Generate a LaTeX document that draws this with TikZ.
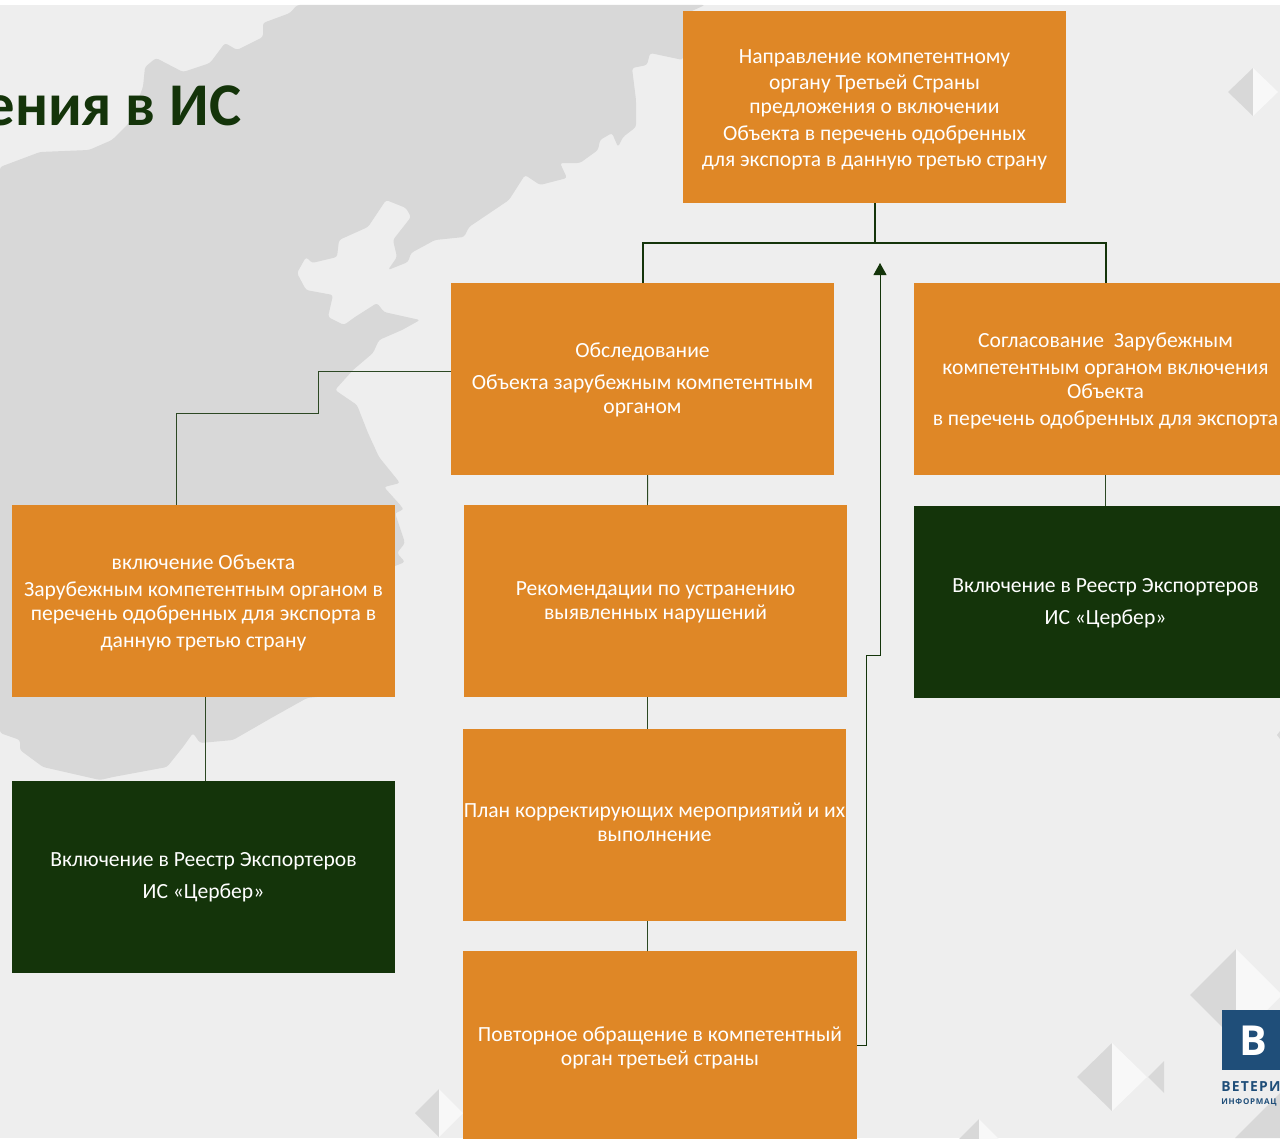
\documentclass[tikz,border=0pt]{standalone}
\usepackage{fontspec}
\setmainfont{Carlito}
\newfontfamily\logofont[LetterSpace=9]{Open Sans}
\usetikzlibrary{arrows.meta}
\definecolor{bgc}{HTML}{EEEEEE}
\definecolor{mapc}{HTML}{D8D8D8}
\definecolor{litec}{HTML}{F8F8F8}
\definecolor{orangec}{HTML}{DF8726}
\definecolor{greenc}{HTML}{14340A}
\definecolor{logoc}{HTML}{1F4E79}
\tikzset{
  box/.style={minimum width=287.25pt,minimum height=144pt,inner sep=0pt,outer sep=0pt,text=white,align=center,font=\fontsize{16.2}{18}\selectfont},
  obox/.style={box,fill=orangec},
  gbox/.style={box,fill=greenc},
  thick line/.style={draw=greenc,line width=1.5pt},
  thin line/.style={draw=greenc!90!white,line width=0.7pt},
  darkhalf/.style={fill=mapc},
  litehalf/.style={fill=litec},
}
\newcommand{\gem}[4]{% cx cy half-width half-height
  \fill[darkhalf] (#1-#3,#2) -- (#1,#2-#4) -- (#1,#2+#4) -- cycle;
  \fill[litehalf] (#1+#3,#2) -- (#1,#2-#4) -- (#1,#2+#4) -- cycle;
}
\newcommand{\dn}[1]{\rule{0pt}{#1}}
\begin{document}
\begin{tikzpicture}[x=0.75pt,y=-0.75pt]
\useasboundingbox (0,0) rectangle (1280,1138);
\clip (0,0) rectangle (1280,1138);
\fill[white] (0,0) rectangle (1280,1138);
\fill[bgc] (0,5) rectangle (1280,1138);
% map
\fill[mapc,rounded corners=2pt] (0,167) -- (40,152) -- (89,150) -- (112,140) -- (129,123) -- (143,87) -- (145,67) -- (156,58) -- (183,72) -- (210,63) -- (225,43) -- (237,50) -- (263,37) -- (263,23) -- (290,13) -- (297,5)
 -- (705,5) -- (683,15) -- (683,60) -- (650,53) -- (647,65) -- (632,68) -- (636,100) -- (636,127) -- (623,137) -- (618,147) -- (612,133) -- (600,140) -- (598,150) -- (580,163) -- (560,163) -- (567,178) -- (540,185) -- (525,175) -- (509,200) -- (469,227) -- (464,237) -- (435,240) -- (411,253) -- (408,262) -- (388,270) -- (397,257) -- (393,240) -- (411,217) -- (406,208) -- (386,200) -- (368,227) -- (339,240) -- (337,257) -- (312,263) -- (306,257) -- (297,273) -- (306,290) -- (333,295) -- (328,317) -- (344,325) -- (355,317) -- (377,303) -- (384,312) -- (420,320) -- (402,330) -- (379,340) -- (373,353) -- (353,370) -- (335,390) -- (357,405) -- (368,433) -- (379,457) -- (400,483) -- (384,487) -- (402,507) -- (403,510) -- (395,513) -- (405,543) -- (397,553) -- (405,562) -- (385,570) -- (385,690) -- (307,698) -- (273,717) -- (233,740) -- (200,743) -- (193,733) -- (183,747) -- (167,767) -- (113,777) -- (100,780) -- (43,767) -- (20,750) -- (20,740) -- (0,733) -- cycle;
\fill[mapc] (1235,1138) -- (1280,1093) -- (1280,1138) -- cycle;
\fill[mapc] (1277,735) -- (1280,731) -- (1280,739) -- cycle;
% gems
\gem{1253}{92}{25}{24}
\gem{1236}{995}{46}{46}
\gem{1112}{1077}{35}{34}
\fill[darkhalf] (1148,1077) -- (1164,1061) -- (1164,1093) -- cycle;
\gem{979}{1140}{21}{21}
\gem{439}{1113}{24}{24}
% title
\node[anchor=base east,inner sep=0pt,text=greenc,font=\fontsize{45.5}{50}\bfseries\selectfont] (title) at (241.5,125.5) {ения в ИС};
% logo
\node[fill=logoc,minimum width=43.5pt,minimum height=45pt,inner sep=0pt,outer sep=0pt,anchor=north west] (logo) at (1222,1010) {};
\node[text=white,inner sep=0pt,font=\logofont\fontsize{31}{32}\bfseries\selectfont,anchor=base] (logob) at (1253,1055) {В};
\node[text=logoc,inner sep=0pt,anchor=base west,font=\logofont\fontsize{10.4}{12}\bfseries\selectfont] (logot) at (1221,1091) {ВЕТЕРИ};
\node[text=logoc,inner sep=0pt,anchor=base west,font=\logofont\fontsize{6}{8}\bfseries\selectfont] (logos) at (1221,1104) {ИНФОРМАЦ};
% boxes
\node[obox] (top) at (874.5,107) {\dn{15pt}Направление компетентному\\[1.5pt]органу Третьей Страны\\предложения о включении\\[2.25pt]Объекта в перечень одобренных\\[1.5pt]для экспорта в данную третью страну};
\node[obox] (obs) at (642.5,379) {\dn{13pt}Обследование\\[6pt]Объекта зарубежным компетентным\\органом};
\node[obox] (sogl) at (1105.5,379) {\dn{14pt}Согласование \ Зарубежным\\[2.25pt]компетентным органом включения\\Объекта\\[2.25pt]в перечень одобренных для экспорта};
\node[obox] (vkl) at (203.5,601) {\dn{14pt}включение Объекта\\[2.25pt]Зарубежным компетентным органом в\\перечень одобренных для экспорта в\\[2.25pt]данную третью страну};
\node[gbox] (reg1) at (203.5,877) {Включение в Реестр Экспортеров\\[6pt]ИС «Цербер»};
\node[gbox] (reg2) at (1105.5,602) {\dn{13pt}Включение в Реестр Экспортеров\\[6pt]ИС «Цербер»};
\node[obox] (rek) at (655.5,601) {\dn{13pt}Рекомендации по устранению\\выявленных нарушений};
\node[obox] (plan) at (654.5,825) {План корректирующих мероприятий и их\\выполнение\rule[-4.2pt]{0pt}{1pt}};
\node[obox,minimum width=295.5pt] (povt) at (660,1047) {\dn{13pt}Повторное обращение в компетентный\\орган третьей страны};
% connectors
\coordinate (junc) at (874.5,243);
\draw[thick line] (top.south) -- (junc);
\draw[thick line] (obs.north) |- (junc) -| (sogl.north);
\coordinate (v1) at (318.5,371);
\coordinate (v2) at (318.5,413);
\coordinate (v3) at (176.5,413);
\draw[thin line] ([yshift=6pt]obs.west) -- (v1) -- (v2) -- (v3) -- ([xshift=-20.25pt]vkl.north);
\draw[thin line] ([xshift=1.5pt]vkl.south) -- ([xshift=1.5pt]reg1.north);
\draw[thin line] ([xshift=3.9pt]obs.south) -- ([xshift=-6pt]rek.north);
\draw[thin line] ([xshift=-6pt]rek.south) -- ([xshift=-5.25pt]plan.north);
\draw[thin line] ([xshift=-5.25pt]plan.south) -- ([xshift=-9.4pt]povt.north);
\draw[thin line] (sogl.south) -- (reg2.north);
\coordinate (r1) at (866,1045);
\coordinate (r2) at (866,655);
\coordinate (r3) at (880,655);
\coordinate (r4) at (880,263);
\draw[draw=greenc,line width=0.7pt,-{Triangle[length=9pt,width=9.75pt,fill=greenc]}] ([yshift=1.5pt]povt.east) -- (r1) -- (r2) -- (r3) -- (r4);
\end{tikzpicture}
\end{document}
